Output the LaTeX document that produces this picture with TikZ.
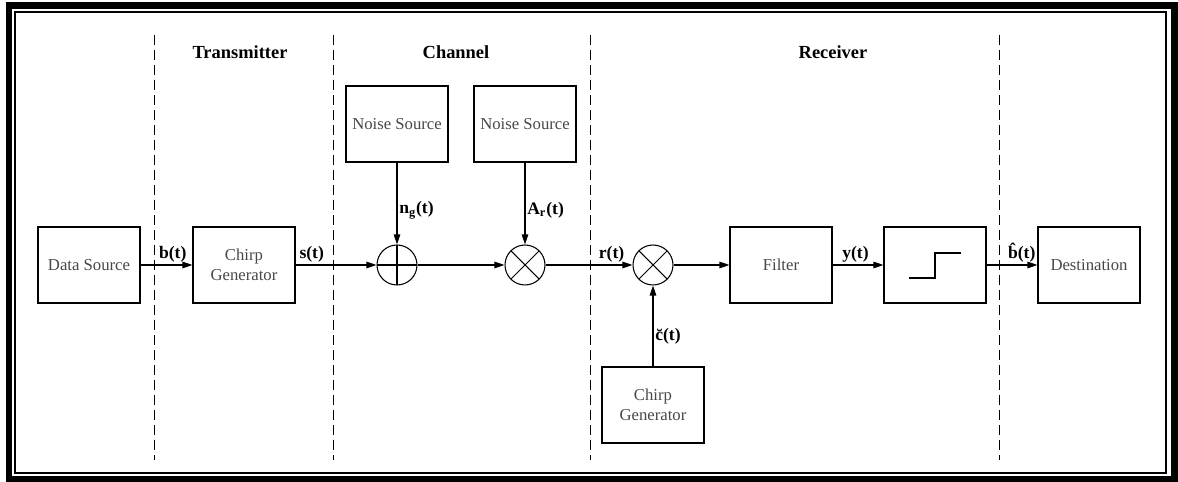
\documentclass[tikz,border=0pt]{standalone}
\usepackage{fontspec}
\setmainfont{Liberation Serif}
\usepackage{tikz}
\usetikzlibrary{arrows.meta}

\begin{document}
\begin{tikzpicture}[x=0.02cm,y=-0.02cm,every node/.style={font=\fontsize{9.5}{11.5}\selectfont}]
      \tikzstyle{blk}=[draw,rectangle,minimum width=2.04cm,minimum height=1.52cm,
                      inner sep=0pt,line width=0.6pt,text=black!72,align=center];
      \tikzstyle{sumnode}=[circle,draw,minimum size=0.8cm,inner sep=0pt,line width=0.6pt,
                      path picture={\draw[line width=0.6pt] (path picture bounding box.north) -- (path picture bounding box.south)
                                    (path picture bounding box.west) -- (path picture bounding box.east);}];
      \tikzstyle{mulnode}=[circle,draw,minimum size=0.8cm,inner sep=0pt,line width=0.6pt,
                      path picture={\draw[line width=0.6pt] (path picture bounding box.north west) -- (path picture bounding box.south east)
                                    (path picture bounding box.south west) -- (path picture bounding box.north east);}];
      \tikzstyle{lab}=[font=\fontsize{10}{12}\selectfont\bfseries,inner sep=1pt];
      \tikzstyle{hdr}=[font=\fontsize{10.5}{12}\selectfont\bfseries];
      \tikzstyle{arr}=[-{Triangle[length=0.2cm,width=0.13cm]},line width=0.6pt];
      \useasboundingbox (0,0) rectangle (1178,482);
      % frame
      \draw[line width=0.14cm] (9,5.5) rectangle (1174,479.5);
      \draw[line width=0.03cm] (15,12) rectangle (1166,473);
      % section borders
      \foreach \x in {154,333,590,999}
        \draw[dashed,dash pattern=on 0.2cm off 0.1cm,line width=0.5pt] (\x,35) -- (\x,460);
      \node[hdr] (htx) at (240,52) {Transmitter};
      \node[hdr] (hch) at (456,52) {Channel};
      \node[hdr] (hrx) at (833,52) {Receiver};
      % blocks
      \node[blk] (ds)   at (89,265)   {Data Source};
      \node[blk] (cgt)  at (244,265)  {Chirp\\Generator};
      \node[blk] (ns1)  at (397,124)  {Noise Source};
      \node[blk] (ns2)  at (525,124)  {Noise Source};
      \node[sumnode] (add)  at (397,265) {};
      \node[mulnode] (mix1) at (525,265) {};
      \node[mulnode] (mix2) at (653,265) {};
      \node[blk] (cgr)  at (653,405)  {Chirp\\Generator};
      \node[blk] (flt)  at (781,265)  {Filter};
      \node[blk] (dec)  at (935,265)  {};
      \node[blk] (dst)  at (1089,265) {Destination};
      \draw[line width=0.6pt] (dec.center) ++(-26,13) -- ++(26,0) -- ++(0,-25) -- ++(26,0);
      % signals
      \draw[arr] (ds) -- node[lab,above,pos=0.62]{b(t)} (cgt);
      \draw[arr] (cgt) -- node[lab,above,pos=0.2]{s(t)} (add);
      \draw[arr] (ns1) -- node[lab,right,pos=0.58]{n\textsubscript{g}(t)} (add);
      \draw[arr] (add) -- (mix1);
      \draw[arr] (ns2) -- node[lab,right,pos=0.58]{A\textsubscript{r}(t)} (mix1);
      \draw[arr] (mix1) -- node[lab,above,pos=0.76]{r(t)} (mix2);
      \draw[arr] (cgr) -- node[lab,right,pos=0.37]{\u{c}(t)} (mix2);
      \draw[arr] (mix2) -- (flt);
      \draw[arr] (flt) -- node[lab,above,pos=0.45]{y(t)} (dec);
      \draw[arr] (dec) -- node[lab,above,pos=0.69]{\^{b}(t)} (dst);
    \end{tikzpicture}
\end{document}
